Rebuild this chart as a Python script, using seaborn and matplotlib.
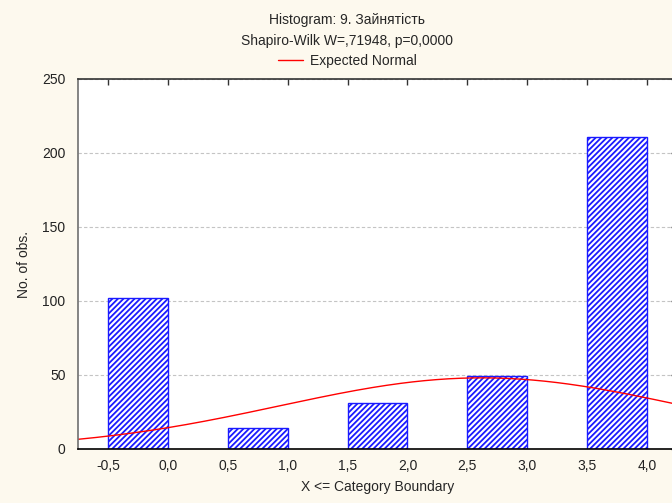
import numpy as np
import pandas as pd
import matplotlib
matplotlib.use("Agg")
import matplotlib.pyplot as plt
import seaborn as sns

# data
categories = [0, 1, 2, 3, 4]
counts = [102, 14, 31, 49, 211]
bin_edges = [-0.5, 0.0, 0.5, 1.0, 1.5, 2.0, 2.5, 3.0, 3.5, 4.0]
x_ticks = [-0.5, 0.0, 0.5, 1.0, 1.5, 2.0, 2.5, 3.0, 3.5, 4.0]
y_ticks = [0, 50, 100, 150, 200, 250]
title = "Histogram: 9. Зайнятість"
subtitle = "Shapiro-Wilk W=,71948, p=0,0000"

sns.set_theme(style="white")
plt.rcParams['font.family'] = ['Liberation Sans', 'DejaVu Sans']
plt.rcParams['hatch.linewidth'] = 1.3

bg = "#fdf9ee"
fs = 10
fig = plt.figure(figsize=(6.72, 5.03), dpi=100, facecolor=bg)
ax = fig.add_axes([78 / 672, 54 / 503, 599 / 672, 370 / 503])
ax.set_facecolor("white")

# bars: each category drawn in the half-unit bin just below its value
df = pd.DataFrame({"x": [c - 0.25 for c in categories], "n": counts})
sns.histplot(data=df, x="x", weights="n", bins=bin_edges, ax=ax,
             stat="count", element="bars", alpha=1, zorder=2)
for p in ax.patches:
    p.set_facecolor("white")
    p.set_edgecolor("#1a1aff")
    p.set_hatch("//////")
    p.set_linewidth(1.0)
    if p.get_height() == 0:
        p.set_visible(False)

# expected normal from the counts (bin width 0.5)
vals = np.repeat(categories, counts)
mu, sd, n = vals.mean(), vals.std(ddof=1), len(vals)
xs = np.linspace(-0.75, 4.25, 300)
ys = n * 0.5 * np.exp(-0.5 * ((xs - mu) / sd) ** 2) / (sd * np.sqrt(2 * np.pi))
sns.lineplot(x=xs, y=ys, color="red", lw=1.0, ax=ax, zorder=3,
             label="Expected Normal")

ax.set_xlim(-0.75, 4.25)
ax.set_ylim(0, 250)
ax.set_xticks(x_ticks)
ax.set_xticklabels([f"{t:.1f}".replace(".", ",") for t in x_ticks])
ax.set_yticks(y_ticks)
ax.set_yticklabels([str(t) for t in y_ticks])
# small inward ticks only on top and right, like the original
ax.tick_params(axis="both", labelsize=fs, labelcolor="#222222", direction="in",
               length=4, width=1, color="#333333",
               bottom=False, left=False, top=True, right=True,
               labeltop=False, labelright=False)
ax.tick_params(axis="x", pad=7)
ax.tick_params(axis="y", pad=9)
ax.yaxis.grid(True, color="#c4c4c4", linestyle=(0, (3, 2)), lw=0.8)
ax.set_axisbelow(True)

ax.spines["left"].set_color("#6f6f6f")
ax.spines["bottom"].set_color("black")
ax.spines["top"].set_color("#333333")
ax.spines["right"].set_color("#333333")
for s in ax.spines.values():
    s.set_linewidth(1.2)
    s.set_zorder(5)

ax.set_xlabel("X <= Category Boundary", fontsize=fs, labelpad=5)
ax.set_ylabel("No. of obs.", fontsize=fs, labelpad=8)

ax.get_legend().remove()
fig.text(347 / 672, 1 - 20 / 503, title, ha="center", va="center", fontsize=fs)
fig.text(347 / 672, 1 - 41 / 503, subtitle, ha="center", va="center", fontsize=fs)
h, l = ax.get_legend_handles_labels()
fig.legend(h, l, loc="center", bbox_to_anchor=(347 / 672, 1 - 61 / 503),
           frameon=False, fontsize=fs, handlelength=1.8, handletextpad=0.5)

fig.savefig("out.png", dpi=100, facecolor=bg)
